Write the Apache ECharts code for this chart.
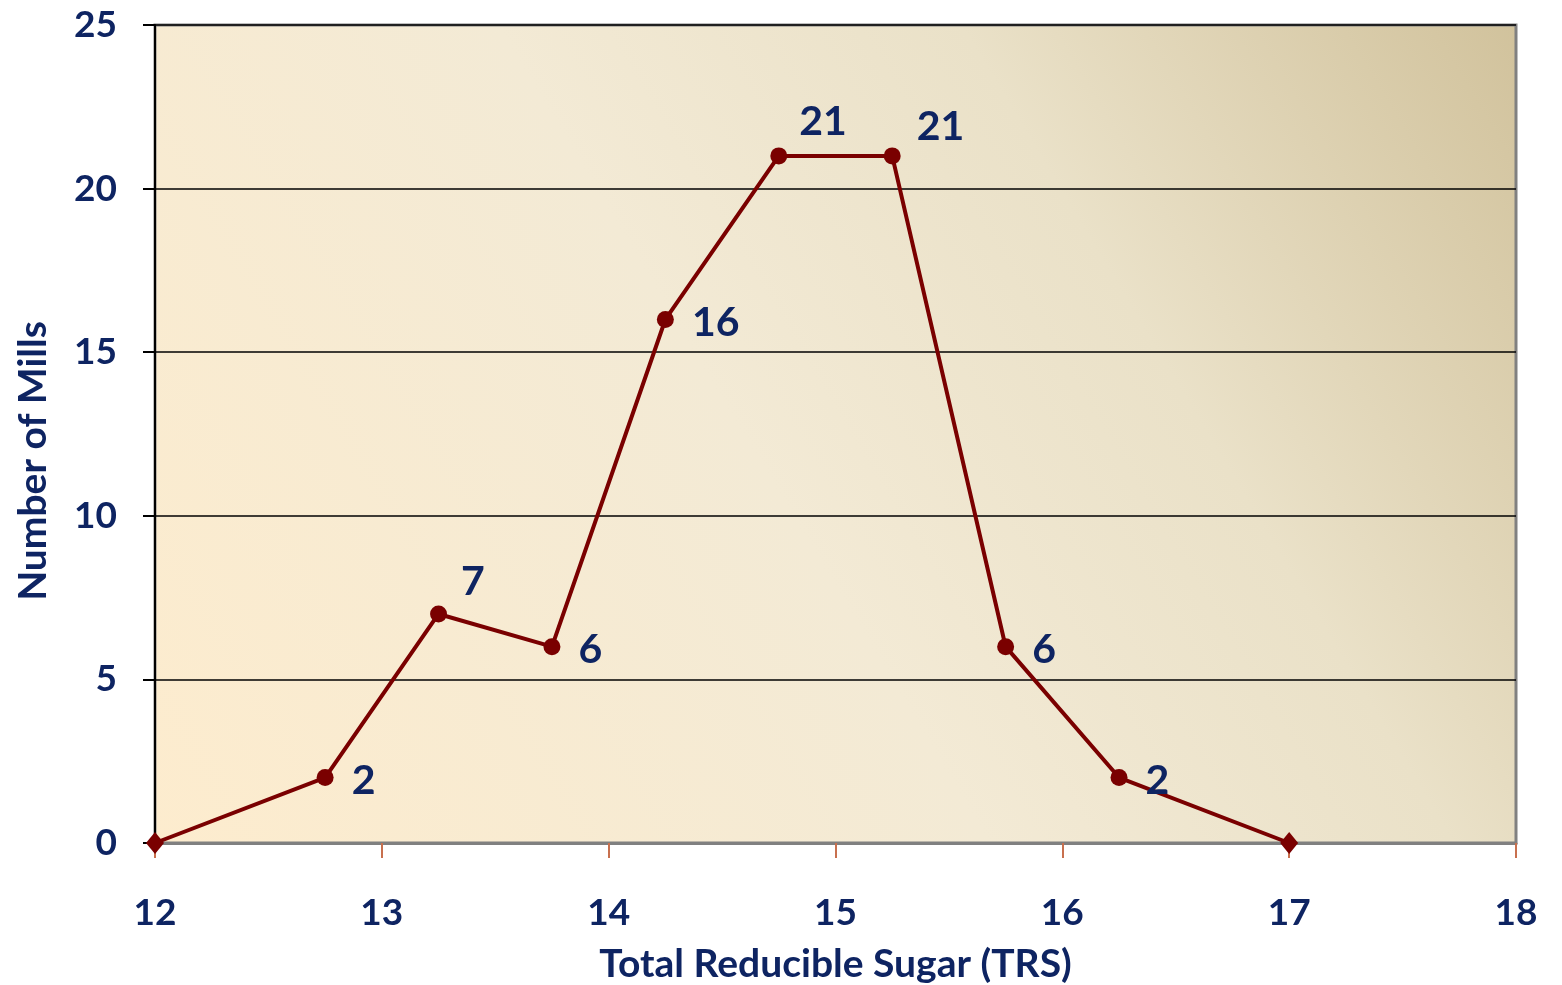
<!DOCTYPE html>
<html>
<head>
<meta charset="utf-8">
<script src="https://cdn.jsdelivr.net/npm/echarts@6/dist/echarts.min.js"></script>
<style>
  html, body { margin: 0; padding: 0; background: #fff; }
  #chart { width: 1562px; height: 985px; }
</style>
</head>
<body>
<div id="chart"></div>
<script>
// TRS values (x) and mill counts (y)
const trsValues = [12, 12.75, 13.25, 13.75, 14.25, 14.75, 15.25, 15.75, 16.25, 17];
const millCounts = [0, 2, 7, 6, 16, 21, 21, 6, 2, 0];

const navy = "#0e2462";
const lineColor = "#7a0000";
const font = "Lato, 'Open Sans', sans-serif";

// label placement per point (end points have no label)
const labelOffsets = [null, [13, 3], [9, -32], [13, 3], [13, 3], [7, -34], [11, -29], [13, 3], [13, 3], null];

const points = trsValues.map((x, i) => {
  const item = { value: [x, millCounts[i]] };
  if (i === 0 || i === trsValues.length - 1) {
    item.symbol = "diamond";
    item.symbolSize = [18, 22];
  }
  const off = labelOffsets[i];
  item.label = off ? { show: true, position: "right", offset: off } : { show: false };
  return item;
});

const option = {
  backgroundColor: "#ffffff",
  textStyle: { fontFamily: font },
  grid: {
    left: 155,
    right: 46,
    top: 25,
    bottom: 142,
    outerBoundsMode: "none",
    containLabel: false,
    show: true,
    borderColor: "#808080",
    borderWidth: 3,
    backgroundColor: {
      type: "linear",
      x: 0, y: 1, x2: 1, y2: 0,
      colorStops: [
        { offset: 0, color: "#fdecce" },
        { offset: 0.45, color: "#f3ead5" },
        { offset: 0.7, color: "#eae1c8" },
        { offset: 1, color: "#d1c29c" },
      ],
    },
  },
  xAxis: {
    type: "value",
    min: 12,
    max: 18,
    interval: 1,
    name: "Total Reducible Sugar (TRS)",
    nameLocation: "middle",
    nameGap: 102,
    nameTextStyle: { color: navy, fontSize: 39, fontWeight: "bold", fontFamily: font },
    axisLine: { show: true, lineStyle: { color: "#808080", width: 3 } },
    axisTick: { show: true, inside: false, length: 15, lineStyle: { color: "#c8704e", width: 2 } },
    axisLabel: { color: navy, fontSize: 37, fontWeight: "bold", margin: 52, fontFamily: font },
    splitLine: { show: false },
  },
  yAxis: {
    type: "value",
    min: 0,
    max: 25,
    interval: 5,
    name: "Number of Mills",
    nameLocation: "middle",
    nameGap: 102,
    nameTextStyle: { color: navy, fontSize: 39, fontWeight: "bold", fontFamily: font, padding: [0, 54, 0, 0] },
    axisLine: { show: true, lineStyle: { color: "#000000", width: 2 } },
    axisTick: { show: true, inside: false, length: 12, lineStyle: { color: "#000000", width: 2 } },
    axisLabel: { color: navy, fontSize: 37, fontWeight: "bold", margin: 38, fontFamily: font },
    splitLine: { show: true, lineStyle: { color: "#000000", width: 1.5 } },
  },
  series: [
    {
      type: "line",
      data: points,
      symbol: "circle",
      symbolSize: 17,
      itemStyle: { color: lineColor },
      lineStyle: { color: lineColor, width: 4 },
      label: {
        show: true,
        color: navy,
        fontSize: 41,
        fontWeight: "bold",
        fontFamily: font,
        formatter: (p) => p.value[1],
      },
      z: 5,
    },
  ],
};

const myChart = echarts.init(document.getElementById("chart"));
myChart.setOption(option);
window.addEventListener("resize", () => {
  myChart.resize();
});
</script>
</body>
</html>
